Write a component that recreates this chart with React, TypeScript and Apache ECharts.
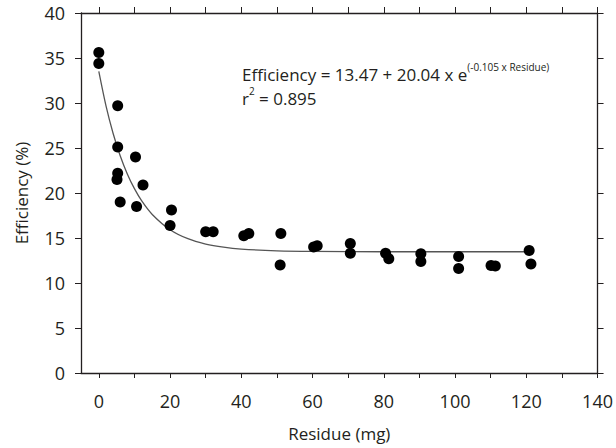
import React, { useEffect, useRef } from "react";
import * as echarts from "echarts";

const residue = [0, 0, 5.3, 5.3, 5.3, 5.1, 6.0, 10.3, 10.6, 12.4, 20.4, 20.0, 30.0, 32.1, 40.7, 42.1, 51.1, 50.9, 60.3, 61.3, 70.6, 70.6, 80.5, 81.4, 90.4, 90.4, 101.0, 101.0, 110.1, 111.3, 120.8, 121.3];
const efficiency = [35.6, 34.4, 29.7, 25.1, 22.2, 21.5, 19.0, 24.0, 18.5, 20.9, 18.1, 16.4, 15.7, 15.7, 15.25, 15.5, 15.5, 12.0, 14.0, 14.15, 14.4, 13.3, 13.3, 12.7, 13.25, 12.4, 12.95, 11.6, 11.95, 11.9, 13.6, 12.1];

// Fitted curve
const fitResidue = [0, 2, 4, 6, 8, 10, 12, 15, 20, 25, 30, 35, 40, 50, 60, 80, 100, 121];
const fitEfficiency = [33.51, 29.71, 26.64, 24.14, 22.12, 20.48, 19.15, 17.62, 15.92, 14.92, 14.33, 13.98, 13.77, 13.58, 13.51, 13.47, 13.47, 13.47];

// Tick values
const xTickValues = [0, 10, 20, 30, 40, 50, 60, 70, 80, 90, 100, 110, 120, 130, 140];
const xLabelValues = [0, 20, 40, 60, 80, 100, 120, 140];

const FONT = "'Open Sans', 'Noto Sans', sans-serif";
const INK = "#231f20";

export default function App() {
  const ref = useRef<HTMLDivElement>(null);
  useEffect(() => {
    if (!ref.current) return;
    const chart = echarts.init(ref.current, undefined, { renderer: "svg" });
    const axisLine = { show: true, onZero: false, lineStyle: { color: INK, width: 1.3 } };
    chart.setOption({
      animation: false,
      textStyle: { fontFamily: FONT },
      grid: { left: 81, right: 14, top: 13, bottom: 75 },
      xAxis: [
        {
          type: "value",
          min: -5,
          max: 140,
          position: "bottom",
          axisLine,
          splitLine: { show: false },
          axisTick: { show: true, length: 5, customValues: xTickValues, lineStyle: { color: INK } },
          axisLabel: { customValues: xLabelValues, fontSize: 18, color: INK, margin: 19, fontFamily: FONT },
          name: "Residue (mg)",
          nameLocation: "middle",
          nameGap: 52,
          nameTextStyle: { fontSize: 17, color: INK, fontFamily: FONT },
        },
        {
          type: "value",
          min: -5,
          max: 140,
          position: "top",
          axisLine,
          splitLine: { show: false },
          axisTick: { show: true, length: 6, customValues: xTickValues, lineStyle: { color: INK } },
          axisLabel: { show: false },
        },
      ],
      yAxis: [
        {
          type: "value",
          min: 0,
          max: 40,
          interval: 5,
          position: "left",
          axisLine,
          splitLine: { show: false },
          axisTick: { show: true, length: 6, lineStyle: { color: INK } },
          axisLabel: { fontSize: 18, color: INK, margin: 16, fontFamily: FONT },
          name: "Efficiency (%)",
          nameLocation: "middle",
          nameGap: 51,
          nameTextStyle: { fontSize: 17, color: INK, fontFamily: FONT },
        },
        {
          type: "value",
          min: 0,
          max: 40,
          interval: 5,
          position: "right",
          axisLine,
          splitLine: { show: false },
          axisTick: { show: true, length: 6, lineStyle: { color: INK } },
          axisLabel: { show: false },
        },
      ],
      series: [
        {
          type: "line",
          data: fitResidue.map((x, i) => [x, fitEfficiency[i]]),
          showSymbol: false,
          smooth: 0.3,
          lineStyle: { color: "#555", width: 1.3 },
          z: 1,
        },
        {
          type: "scatter",
          data: residue.map((x, i) => [x, efficiency[i]]),
          symbol: "circle",
          symbolSize: 11,
          itemStyle: { color: "#000", opacity: 1 },
          z: 2,
        },
      ],
      graphic: [
        {
          type: "text",
          left: 242,
          top: 62,
          style: {
            text: "{m|Efficiency = 13.47 + 20.04 x e}{s|(-0.105 x Residue)}\n{m|r}{s|2}{m| = 0.895}",
            fill: INK,
            rich: {
              m: { fontSize: 17, lineHeight: 24, fontFamily: FONT, fill: INK },
              s: { fontSize: 10, lineHeight: 12, verticalAlign: "top", fontFamily: FONT, fill: INK },
            },
          },
        },
      ],
    });
    return () => chart.dispose();
  }, []);
  return (
    <div
      ref={ref}
      style={{ position: "fixed", left: 0, top: 0, width: 616, height: 448, background: "#fff" }}
    />
  );
}
